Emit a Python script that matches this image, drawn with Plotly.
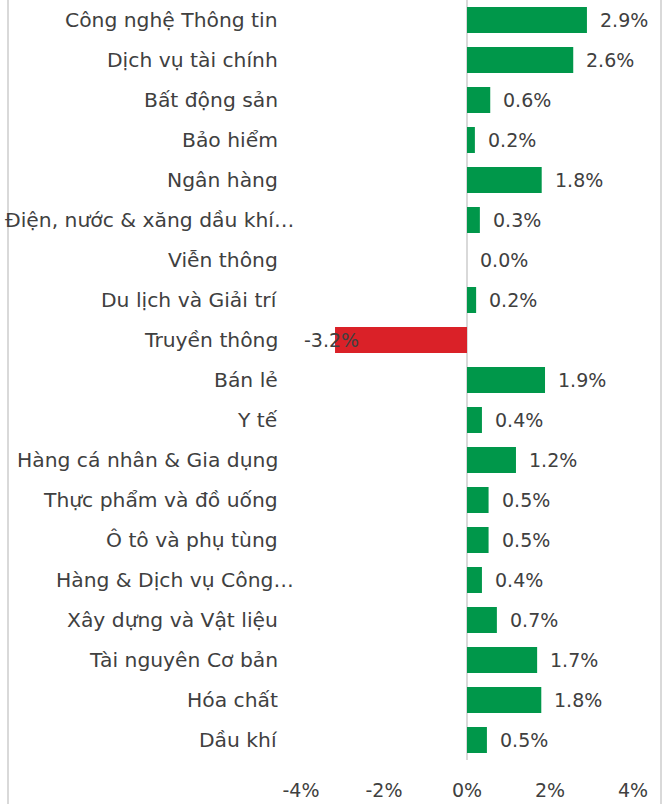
import plotly.graph_objects as go

categories = [
    "Công nghệ Thông tin", "Dịch vụ tài chính", "Bất động sản", "Bảo hiểm",
    "Ngân hàng", "Điện, nước & xăng dầu khí…", "Viễn thông", "Du lịch và Giải trí",
    "Truyền thông", "Bán lẻ", "Y tế", "Hàng cá nhân & Gia dụng",
    "Thực phẩm và đồ uống", "Ô tô và phụ tùng", "Hàng & Dịch vụ Công…",
    "Xây dựng và Vật liệu", "Tài nguyên Cơ bản", "Hóa chất", "Dầu khí",
]
values = [2.89, 2.56, 0.56, 0.19, 1.80, 0.31, 0.0, 0.22, -3.18, 1.88, 0.36, 1.18,
          0.52, 0.52, 0.36, 0.72, 1.69, 1.79, 0.48]
tick_vals = [-4, -2, 0, 2, 4]
tick_text = ["-4%", "-2%", "0%", "2%", "4%"]

GREEN = "#00974A"
RED = "#DA2128"
colors = [RED if v < 0 else GREEN for v in values]
FONT = "DejaVu Sans"
TXT = "#404040"
FS = 19
FS_CAT = 20.3

fig = go.Figure(go.Bar(
    y=categories, x=values, orientation="h",
    marker=dict(color=colors, line=dict(width=0)),
    width=0.65,
    cliponaxis=False,
))

annotations = []
for c, v in zip(categories, values):
    # category label (truncated labels overflow to the right, as in the original)
    annotations.append(dict(x=0, y=c, xref="paper", yref="y", text=c,
                            xanchor="right", xshift=-5 if c.endswith("…") else -21,
                            showarrow=False,
                            font=dict(family=FONT, size=FS_CAT, color=TXT)))
    if v < 0:
        annotations.append(dict(x=v, y=c, xref="x", yref="y", text=f"{v:.1f}%",
                                xanchor="right", xshift=26, showarrow=False,
                                font=dict(family=FONT, size=FS, color=TXT)))
    else:
        annotations.append(dict(x=v, y=c, xref="x", yref="y", text=f"{v:.1f}%",
                                xanchor="left", xshift=11, showarrow=False,
                                font=dict(family=FONT, size=FS, color=TXT)))

fig.update_layout(
    width=666, height=804,
    margin=dict(l=301, r=33, t=0, b=44),
    paper_bgcolor="white", plot_bgcolor="white",
    showlegend=False,
    font=dict(family=FONT, size=FS, color=TXT),
    annotations=annotations,
    xaxis=dict(range=[-4, 4], tickvals=tick_vals, ticktext=tick_text, automargin=False,
               showgrid=False, zeroline=True, zerolinecolor="#D9D9D9", zerolinewidth=2,
               showline=False, ticks="", ticklabelstandoff=17,
               tickfont=dict(family=FONT, size=FS, color=TXT)),
    yaxis=dict(autorange="reversed", showgrid=False, showline=False, ticks="",
               automargin=False, showticklabels=False),
    shapes=[
        dict(type="line", xref="paper", yref="paper", x0=-0.8825, x1=-0.8825, y0=-0.06, y1=1.0,
             line=dict(color="#D9D9D9", width=2)),
        dict(type="line", xref="paper", yref="paper", x0=1.0843, x1=1.0843, y0=-0.06, y1=1.0,
             line=dict(color="#D9D9D9", width=2)),
    ],
)

fig.write_html("out.html", config={"displayModeBar": False},
               post_script="document.body.style.margin='0';")
